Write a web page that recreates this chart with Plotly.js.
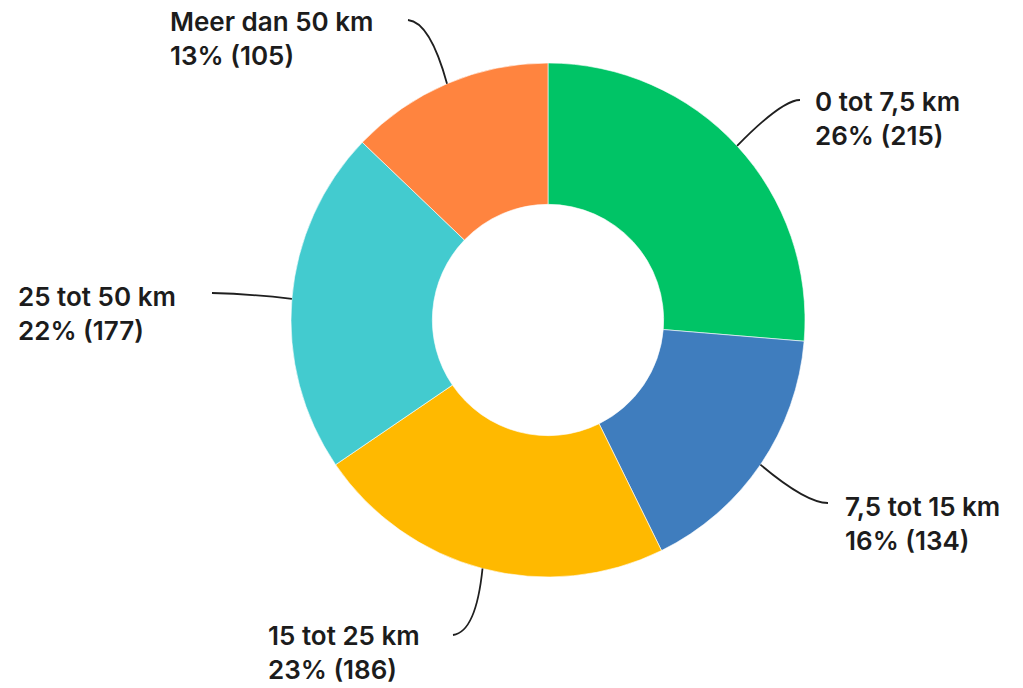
<!DOCTYPE html>
<html>
<head>
<meta charset="utf-8">
<script src="https://cdn.plot.ly/plotly-3.0.1.min.js"></script>
<style>html,body{margin:0;padding:0;background:#fff;}#chart{width:1023px;height:688px;}</style>
</head>
<body>
<div id="chart"></div>
<script>
// Data
var categories = ["0 tot 7,5 km", "7,5 tot 15 km", "15 tot 25 km", "25 tot 50 km", "Meer dan 50 km"];
var counts = [215, 134, 186, 177, 105];
var percentLabels = ["26%", "16%", "23%", "22%", "13%"];
var sliceColors = ["#00C466", "#3F7DBE", "#FFB900", "#43CBCF", "#FF843F"];

// Layout geometry (pixels)
var W = 1023, H = 688;
var cx = 548, cy = 320, R = 257;
// label block anchor (left edge, vertical center) and leader-line end/control
var labelPos = [
  {x: 813, y: 119, ex: 800, ey: 100, qx: 782, qy: 100},
  {x: 843, y: 523, ex: 828, ey: 503, qx: 806, qy: 503},
  {x: 266, y: 652, ex: 453, ey: 635, qx: 476, qy: 632},
  {x: 16,  y: 313, ex: 212, ey: 293, qx: 250, qy: 294},
  {x: 168, y: 39,  ex: 408, ey: 20,  qx: 430, qy: 22}
];

function px(x){ return x / W; }
function py(y){ return 1 - y / H; }

var total = counts.reduce(function(a,b){return a+b;}, 0);
var cum = 0;
var shapes = [], annotations = [];
counts.forEach(function(v, i){
  var mid = (cum + v/2) / total;
  cum += v;
  var ang = (90 - mid*360) * Math.PI/180;
  var sx = cx + R*Math.cos(ang), sy = cy - R*Math.sin(ang);
  var L = labelPos[i];
  shapes.push({
    type: 'path', xref: 'paper', yref: 'paper',
    path: 'M ' + px(sx) + ',' + py(sy) + ' Q ' + px(L.qx) + ',' + py(L.qy) + ' ' + px(L.ex) + ',' + py(L.ey),
    line: {color: '#1f1f1f', width: 1.8}
  });
  annotations.push({
    xref: 'paper', yref: 'paper', x: px(L.x), y: py(L.y),
    xanchor: 'left', yanchor: 'middle', align: 'left', showarrow: false,
    text: categories[i] + '<br>' + percentLabels[i] + ' (' + v + ')',
    font: {family: 'Inter, "Open Sans", sans-serif', size: 26, color: '#1c1c1c', weight: 600}
  });
});

var trace = {
  type: 'pie',
  labels: categories,
  values: counts,
  sort: false,
  direction: 'clockwise',
  rotation: 0,
  hole: 0.45,
  textinfo: 'none',
  hoverinfo: 'none',
  marker: {colors: sliceColors, line: {color: '#ffffff', width: 0.6}},
  domain: {x: [px(cx - R), px(cx + R)], y: [py(cy + R), py(cy - R)]},
  showlegend: false
};

var layout = {
  width: W, height: H,
  margin: {l: 0, r: 0, t: 0, b: 0},
  paper_bgcolor: '#ffffff',
  plot_bgcolor: '#ffffff',
  showlegend: false,
  shapes: shapes,
  annotations: annotations
};

Plotly.newPlot('chart', [trace], layout, {displayModeBar: false, staticPlot: true});
</script>
</body>
</html>
